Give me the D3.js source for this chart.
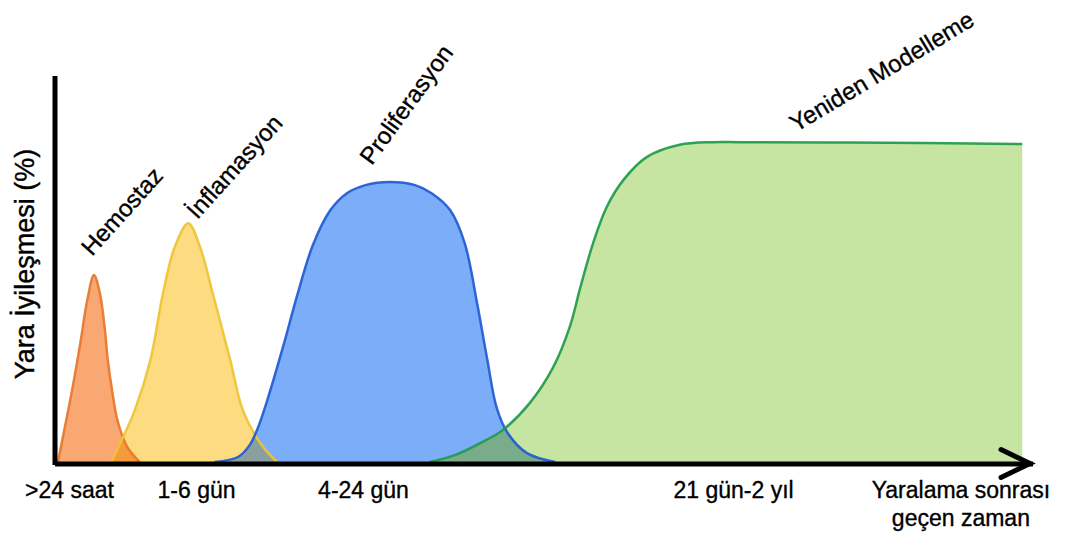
<!DOCTYPE html>
<html>
<head>
<meta charset="utf-8">
<script src="https://cdn.jsdelivr.net/npm/d3@7"></script>
<style>
  html, body { margin: 0; padding: 0; background: #fff; }
  svg { display: block; font-family: "Liberation Sans", Arial, Helvetica, sans-serif; }
</style>
</head>
<body>
<svg id="chart" width="1075" height="533"></svg>
<script>
// ---- data (time index 0-100 along the axis, healing % 0-100) ----
const phaseNames = ["Hemostaz", "İnflamasyon", "Proliferasyon", "Yeniden Modelleme"];

const hemostazT = [0.1, 0.8, 1.5, 2.4, 3.1, 3.8, 4.4, 4.9, 5.2, 5.7, 6.2, 7.2, 8.5];
const hemostazV = [0, 9, 18, 31, 42, 48.7, 44, 35, 27, 18, 11, 4, 0];

const inflamasyonT = [5.6, 6.5, 8.0, 9.6, 10.9, 12.1, 13.5, 14.7, 16.0, 17.8, 19.1, 20.9, 22.6];
const inflamasyonV = [0, 4.9, 13.5, 26.6, 44, 56, 62.2, 56, 44, 26.6, 13.5, 4.9, 0];

const proliferasyonT = [16.2, 18.6, 19.8, 20.6, 21.6, 23.2, 24.7, 26.3, 28.1, 29.8, 31.7, 34.2, 36.8, 38.5, 40.4, 41.9, 43.2, 44.2, 45.2, 46.3, 48.3, 51.2];
const proliferasyonV = [0, 1.3, 4.4, 8.6, 16, 29.7, 43.5, 56.5, 65.6, 70, 72.1, 72.9, 72.1, 70, 65.6, 57, 41, 27, 14, 7.6, 2.3, 0];

const modellemeT = [38.3, 40.9, 43.5, 45.8, 48.6, 51.0, 52.7, 53.8, 55.1, 56.5, 58.2, 60.6, 64.0, 67.4, 70.2, 81.5, 99.2];
const modellemeV = [0, 1.8, 4.9, 8.3, 15.4, 24.7, 35.2, 45.6, 57, 66.4, 73.4, 79.4, 82.6, 83.3, 83.3, 83.2, 82.8];

const tickPositions = [1.23, 14.29, 31.45, 69.48];
const tickLabels = [">24 saat", "1-6 gün", "4-24 gün", "21 gün-2 yıl"];
const xTitleLines = ["Yaralama sonrası", "geçen zaman"];
const xTitlePos = 92.9;
const yTitle = "Yara İyileşmesi (%)";

// ---- layout / style ----
const svg = d3.select("#chart");
const x = d3.scaleLinear().domain([0, 100]).range([57, 1030]);
const y = d3.scaleLinear().domain([0, 100]).range([462, 78]);

const zip = (ts, vs) => ts.map((t, i) => ({ t, v: vs[i] }));
const series = [
  { name: phaseNames[0], data: zip(hemostazT, hemostazV), fill: "#f9a874", stroke: "#e8762a", overlap: "#f29a3c", label: { dx: -2, dy: -18, rot: -48 } },
  { name: phaseNames[1], data: zip(inflamasyonT, inflamasyonV), fill: "#fddb80", stroke: "#efc332", overlap: "#8c9fa0", label: { dx: 9, dy: -3, rot: -48 } },
  { name: phaseNames[2], data: zip(proliferasyonT, proliferasyonV), fill: "#7cadf8", stroke: "#1f5bd2", overlap: "#78ac8a", label: { dx: -18, dy: -16, rot: -54 } },
  { name: phaseNames[3], data: zip(modellemeT, modellemeV), fill: "#c6e4a2", stroke: "#1f9a48", label: { dx: -54, dy: -10, rot: -31, at: 15 } }
];

const curve = d3.curveCatmullRom.alpha(0.5);
const area = d3.area().x(d => x(d.t)).y0(y(0)).y1(d => y(d.v)).curve(curve);
const line = d3.line().x(d => x(d.t)).y(d => y(d.v)).curve(curve);

const defs = svg.append("defs");
series.forEach((s, i) => {
  defs.append("clipPath").attr("id", "clip" + i).append("path").attr("d", area(s.data));
});

const g = svg.append("g");
series.forEach(s => {
  g.append("path").attr("d", area(s.data)).attr("fill", s.fill);
});
// overlaps of consecutive phases
series.forEach((s, i) => {
  if (i < series.length - 1) {
    g.append("path").attr("d", area(series[i + 1].data))
      .attr("clip-path", `url(#clip${i})`).attr("fill", s.overlap);
  }
});
series.forEach(s => {
  g.append("path").attr("d", line(s.data)).attr("fill", "none").attr("stroke", s.stroke)
    .attr("stroke-width", 2.5).attr("stroke-opacity", 0.92);
});

// phase labels
series.forEach(s => {
  let anchor;
  if (s.label.at !== undefined) anchor = s.data[s.label.at];
  else anchor = s.data.reduce((a, b) => (b.v > a.v ? b : a));
  const px = x(anchor.t) + s.label.dx, py = y(anchor.v) + s.label.dy;
  svg.append("text")
    .attr("transform", `translate(${px},${py}) rotate(${s.label.rot})`)
    .attr("font-size", 24).attr("fill", "#000").attr("stroke", "#000").attr("stroke-width", 0.35)
    .text(s.name);
});

// x axis
const xAxis = d3.axisBottom(x).tickValues(tickPositions)
  .tickFormat((d, i) => tickLabels[i]).tickSize(0).tickSizeOuter(0).tickPadding(18);
const xg = svg.append("g").attr("transform", `translate(0,${y(0) + 1.5})`).call(xAxis);
xg.select(".domain").attr("stroke", "#000").attr("stroke-width", 5).attr("stroke-linecap", "square");
xg.selectAll(".tick text").attr("font-size", 23).attr("fill", "#000")
  .attr("stroke", "#000").attr("stroke-width", 0.35)
  .attr("font-family", "'Liberation Sans', Arial, sans-serif");

// arrow head
const tipX = x(100), axY = y(0) + 1.5;
svg.append("path")
  .attr("d", `M${tipX - 29},${axY - 14}L${tipX},${axY}L${tipX - 29},${axY + 14}`)
  .attr("fill", "none").attr("stroke", "#000").attr("stroke-width", 5)
  .attr("stroke-linejoin", "miter").attr("stroke-linecap", "round");

// x title
const xt = svg.append("text").attr("text-anchor", "middle").attr("font-size", 23)
  .attr("fill", "#000").attr("stroke", "#000").attr("stroke-width", 0.35);
xTitleLines.forEach((l, i) => {
  xt.append("tspan").attr("x", x(xTitlePos)).attr("y", 498 + i * 28).text(l);
});

// y axis
const yAxis = d3.axisLeft(y).tickValues([]).tickSizeOuter(0);
const yg = svg.append("g").attr("transform", `translate(54.5,0)`).call(yAxis);
yg.select(".domain").attr("stroke", "#000").attr("stroke-width", 5).attr("stroke-linecap", "square");

svg.append("text")
  .attr("transform", `translate(34,264) rotate(-90)`)
  .attr("text-anchor", "middle").attr("font-size", 27)
  .attr("fill", "#000").attr("stroke", "#000").attr("stroke-width", 0.4).text(yTitle);
</script>
</body>
</html>
